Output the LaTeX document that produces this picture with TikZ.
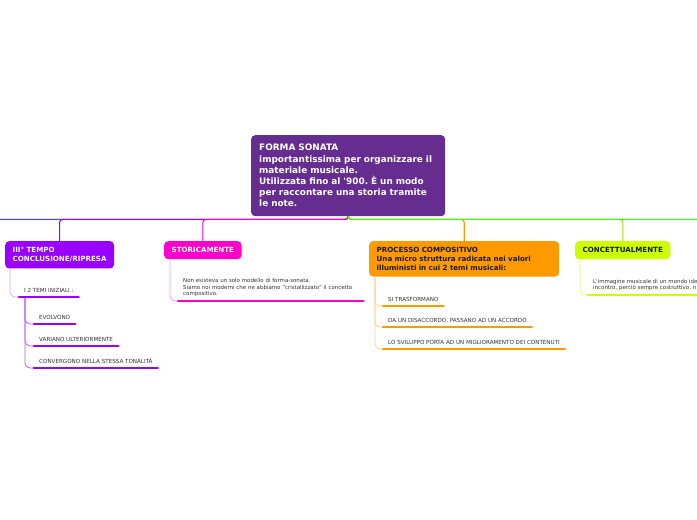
\documentclass[tikz,border=0pt]{standalone}
\usepackage{fontspec}
\setmainfont{DejaVu Sans}
\usetikzlibrary{positioning,calc}
\frenchspacing
\definecolor{bg}{HTML}{FFFFFF}
\definecolor{root}{HTML}{662D91}
\definecolor{tempo}{HTML}{9900FF}
\definecolor{stor}{HTML}{FF00CC}
\definecolor{proc}{HTML}{FF9900}
\definecolor{conc}{HTML}{CCFF00}
\definecolor{offleft}{HTML}{3F3FFF}
\definecolor{offright}{HTML}{33FF00}
\definecolor{leaftext}{HTML}{333333}
\definecolor{dark}{HTML}{1A1A1A}

\begin{document}
\begin{tikzpicture}[x=1pt,y=-1pt,line cap=round,line join=round,
  topic/.style={anchor=north west,rounded corners=4pt,inner xsep=7.5pt,inner ysep=6.3pt,
    align=left,font=\bfseries\fontsize{7.1}{8.7}\selectfont},
  leaf/.style={anchor=south west,inner xsep=5pt,inner ysep=4pt,align=left,text=leaftext,
    font=\fontsize{5.6}{6.4}\selectfont},
  branch/.style={line width=1.1pt,rounded corners=3pt},
  twig/.style={line width=0.8pt,rounded corners=5pt},
  uline/.style={line width=2.8pt}]
  \useasboundingbox (0,0) rectangle (697,520);
  \fill[bg] (0,0) rectangle (697,520);
  \clip (0,0) rectangle (697,520);

  % ---- central topic ----
  \node[topic,fill=root,text=white,text width=178pt,inner xsep=8pt,minimum height=81pt,
    font=\bfseries\fontsize{8.9}{11.2}\selectfont] (root) at (251,135)
    {FORMA SONATA\\importantissima per organizzare il\\materiale musicale.\\Utilizzata fino al \textquotesingle 900. È un modo\\per raccontare una storia tramite\\le note.};

  % ---- main topics ----
  \node[topic,fill=tempo,text=white] (tempo) at (5,241) {III° TEMPO\\CONCLUSIONE/RIPRESA};
  \node[topic,fill=stor,text=white] (stor) at (164,241) {STORICAMENTE};
  \node[topic,fill=proc,text=dark,text width=175pt] (proc) at (369,241)
    {PROCESSO COMPOSITIVO\\Una micro struttura radicata nei valori\\illuministi in cui 2 temi musicali:};
  \node[topic,fill=conc,text=dark] (conc) at (575,241) {CONCETTUALMENTE};

  % branches running off the page
  \coordinate (left) at (-60,241);
  \coordinate (right) at (760,241);

  % ---- branches (drawn left to right) ----
  \draw[branch,offleft] (root.south) -- ++(0,3) -| (left);
  \draw[branch,tempo] (root.south) -- ++(0,3) -| (tempo.north);
  \draw[branch,stor] (root.south) -- ++(0,3) -| (stor.north);
  \draw[branch,proc] (root.south) -- ++(0,3) -| (proc.north);
  \draw[branch,conc!85!black] (root.south) -- ++(0,3) -| (conc.north);
  \draw[branch,offright] (root.south) -- ++(0,3) -| (right);

  % ---- III° tempo ----
  \node[leaf] (temi) at (19,297) {I 2 TEMI INIZIALI :};
  \node[leaf] (evolvono) at (34,324) {EVOLVONO};
  \node[leaf] (variano) at (34,346) {VARIANO ULTERIORMENTE};
  \node[leaf] (convergono) at (34,368) {CONVERGONO NELLA STESSA TONALITÀ};
  \draw[twig,tempo!35] ([xshift=5pt]tempo.south west) |- (temi.south west);
  \foreach \n in {evolvono,variano,convergono}
    \draw[twig,tempo!65] ([xshift=6pt]temi.south west) |- (\n.south west);
  \foreach \n in {temi,evolvono,variano,convergono}
    \draw[uline,tempo] (\n.south west) -- (\n.south east);

  % ---- storicamente ----
  \node[leaf,text width=175pt,font=\fontsize{5.45}{6.4}\selectfont] (modello) at (178,301)
    {Non esisteva un solo modello di forma-sonata.\\Siamo noi moderni che ne abbiamo "cristallizzato" il concetto\\compositivo.};
  \draw[twig,stor!40] ([xshift=6pt]stor.south west) |- (modello.south west);
  \draw[uline,stor] (modello.south west) -- (modello.south east);

  % ---- processo compositivo ----
  \node[leaf] (trasf) at (383,306) {SI TRASFORMANO};
  \node[leaf] (accordo) at (383,327) {DA UN DISACCORDO, PASSANO AD UN ACCORDO};
  \node[leaf] (sviluppo) at (383,349) {LO SVILUPPO PORTA AD UN MIGLIORAMENTO DEI CONTENUTI};
  \foreach \n in {trasf,accordo,sviluppo}{
    \draw[twig,proc!45] ([xshift=6pt]proc.south west) |- (\n.south west);
    \draw[uline,proc] (\n.south west) -- (\n.south east);}

  % ---- concettualmente ----
  \node[leaf,text width=260pt,font=\fontsize{5.45}{6.4}\selectfont] (immagine) at (588,295)
    {L\textquotesingle immagine musicale di un mondo ideale\\incontro, perciò sempre costruttivo, n};
  \draw[twig,conc!55] ([xshift=5pt]conc.south west) |- (immagine.south west);
  \draw[uline,conc] (immagine.south west) -- (immagine.south east);
\end{tikzpicture}
\end{document}
